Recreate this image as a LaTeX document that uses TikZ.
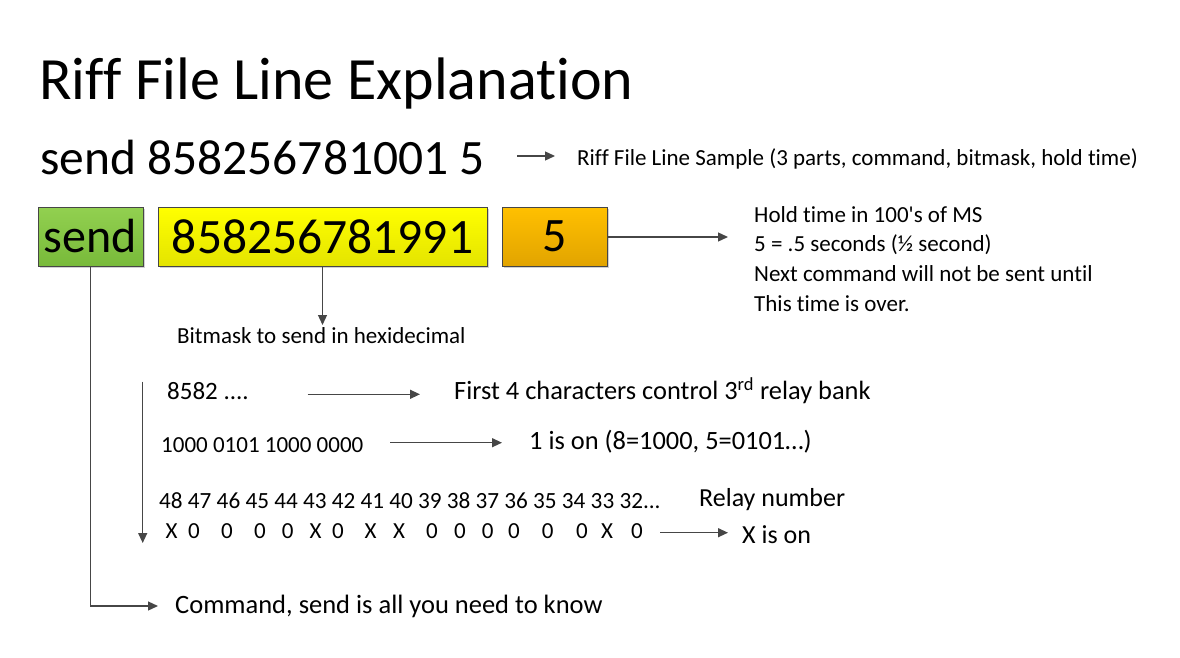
\documentclass[tikz,border=0pt]{standalone}
\usepackage{fontspec}
\setmainfont{Carlito}[Ligatures={NoCommon,TeXOff}]
\usetikzlibrary{arrows.meta,shadows}

\definecolor{linegray}{RGB}{70,70,70}
\definecolor{greentop}{RGB}{146,208,80}
\definecolor{greenbot}{RGB}{120,186,58}
\definecolor{yellowtop}{RGB}{255,255,0}
\definecolor{yellowbot}{RGB}{228,228,0}
\definecolor{orangetop}{RGB}{255,192,0}
\definecolor{orangebot}{RGB}{226,164,0}

\begin{document}
\begin{tikzpicture}[x=1pt,y=-1pt,
  conn/.style={draw=linegray, line width=1.3pt, -{Triangle[length=10pt,width=9pt]}},
  txt/.style={anchor=base west, inner sep=0pt, font=\fontsize{#1}{#1}\selectfont},
  partbox/.style={draw=linegray, line width=0.8pt, inner sep=0pt,
    minimum height=59pt, font=\fontsize{48}{48}\selectfont,
    drop shadow={shadow xshift=2pt, shadow yshift=-2pt, opacity=0.18, fill=black}},
  bit/.style={anchor=base, inner sep=0pt, font=\fontsize{23}{23}\selectfont}]

\useasboundingbox (0,0) rectangle (1180,658);

% heading and the sample line
\node[txt=60] (title) at (39,100) {Riff File Line Explanation};
\node[txt=49.5] (sample) at (40,174) {send 858256781001 5};
\coordinate (sampleA) at (517,156);
\coordinate (sampleB) at (555,156);
\draw[conn] (sampleA) -- (sampleB);
\node[txt=23] (samplelbl) at (577,165) {Riff File Line Sample (3 parts, command, bitmask, hold time)};

% the three parts of the line
\node[partbox, minimum width=105pt, top color=greentop, bottom color=greenbot] (cmd) at (90.5,236.5) {send};
\node[partbox, minimum width=329pt, top color=yellowtop, bottom color=yellowbot,
  font=\fontsize{49.5}{49.5}\selectfont] (mask) at (322.5,236.5) {858256781991};
\node[partbox, minimum width=105pt, top color=orangetop, bottom color=orangebot] (hold) at (554.5,236.5) {5};

% hold time note
\coordinate (holdtip) at (728,237);
\draw[conn] (hold.east |- holdtip) -- (holdtip);
\node[txt=23] (holdA) at (754,222) {Hold time in 100's of MS};
\node[txt=23] (holdB) at (754,251.8) {5 = .5 seconds (½ second)};
\node[txt=23] (holdC) at (754,281.6) {Next command will not be sent until};
\node[txt=23] (holdD) at (754,311.4) {This time is over.};

% bitmask note
\coordinate (masktip) at (322.5,325);
\draw[conn] (mask.south) -- (masktip);
\node[txt=23] (masklbl) at (177,343) {Bitmask to send in hexidecimal};

% bitmask breakdown
\coordinate (downA) at (142.7,381.7);
\coordinate (downB) at (142.7,543);
\draw[conn] (downA) -- (downB);

\node[txt=25] (rowA) at (167,399) {8582 ....};
\coordinate (rowAa) at (307.7,394.3);
\coordinate (rowAb) at (420,394.3);
\draw[conn] (rowAa) -- (rowAb);
\node[txt=26.4] (rowAlbl) at (454,399.3) {First 4 characters control 3\textsuperscript{rd} relay bank};

\node[txt=23] (rowB) at (161,452.7) {1000 0101 1000 0000};
\coordinate (rowBa) at (390,442.7);
\coordinate (rowBb) at (502,442.7);
\draw[conn] (rowBa) -- (rowBb);
\node[txt=26.4] (rowBlbl) at (529,449) {1 is on (8=1000, 5=0101…)};

\node[txt=23.2] (relays) at (159,508) {48 47 46 45 44 43 42 41 40 39 38 37 36 35 34 33 32...};
\node[txt=26] (relaylbl) at (699,506.7) {Relay number};

\foreach \px/\ch [count=\i] in {171.7/X, 194/0, 227/0, 260/0, 287.7/0, 315.7/X, 338/0,
    370.7/X, 399/X, 432/0, 460/0, 487.7/0, 514/0, 547.7/0, 582/0, 607/X, 637/0}
  \node[bit] (state\i) at (\px,538) {\ch};
\coordinate (stateA) at (660,532.7);
\coordinate (stateB) at (728,532.7);
\draw[conn] (stateA) -- (stateB);
\node[txt=26] (statelbl) at (742,543) {X is on};

% command note
\coordinate (cmdtip) at (158,606);
\draw[conn] (cmd.south) |- (cmdtip);
\node[txt=26.5] (cmdlbl) at (175,613.3) {Command, send is all you need to know};

\end{tikzpicture}
\end{document}
